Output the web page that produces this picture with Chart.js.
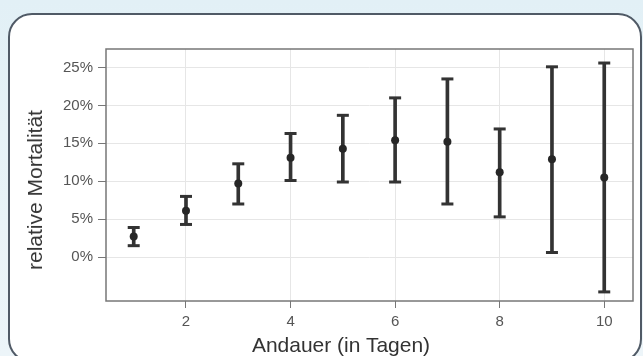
<!DOCTYPE html>
<html>
<head>
<meta charset="utf-8">
<script src="https://cdn.jsdelivr.net/npm/chart.js@4"></script>
<style>
  html, body { margin:0; padding:0; width:643px; height:356px; overflow:hidden;
    background: linear-gradient(#e2f0f6, #edf5f9); font-family: "Liberation Sans", Arial, sans-serif; }
  #frame { position:absolute; left:8px; top:13px; width:634px; height:350px;
    border:2px solid #505a66; border-radius:24px; background:#fff; box-sizing:border-box; }
  #c { position:absolute; left:0; top:0; }
  .title { position:absolute; color:#333; font-size:21px; white-space:nowrap; }
  #xt { left:341px; top:345px; transform:translate(-50%,-50%); }
  #yt { left:35px; top:190px; transform:translate(-50%,-50%) rotate(-90deg); }
</style>
</head>
<body>
<div id="frame"></div>
<canvas id="c" width="643" height="356"></canvas>
<div class="title" id="xt">Andauer (in Tagen)</div>
<div class="title" id="yt">relative Mortalität</div>
<script>
// Data (relative mortality in %)
const days   = [1, 2, 3, 4, 5, 6, 7, 8, 9, 10];
const mean   = [2.7, 6.1, 9.7, 13.1, 14.3, 15.4, 15.2, 11.2, 12.9, 10.5];
const lower  = [1.5, 4.3, 7.0, 10.1, 9.9, 9.9, 7.0, 5.3, 0.6, -4.6];
const upper  = [3.9, 8.0, 12.3, 16.3, 18.7, 21.0, 23.5, 16.9, 25.1, 25.6];
const xTicks = [2, 4, 6, 8, 10];
const yTicks = [0, 5, 10, 15, 20, 25];

const ink = '#333333';

const framePlugin = {
  id: 'plotFrame',
  afterDraw(chart) {
    const a = chart.chartArea, ctx = chart.ctx;
    ctx.save();
    ctx.strokeStyle = '#777';
    ctx.lineWidth = 1.5;
    ctx.strokeRect(a.left, a.top, a.right - a.left, a.bottom - a.top);
    ctx.restore();
  }
};

new Chart(document.getElementById('c'), {
  data: {
    datasets: [
      { type: 'scatter', label: 'Mittelwert',
        data: days.map((d, i) => ({ x: d, y: mean[i] })),
        pointRadius: 4, pointBackgroundColor: '#262626', pointBorderColor: '#262626', pointBorderWidth: 0 },
      { type: 'scatter', label: 'obere Grenze',
        data: days.map((d, i) => ({ x: d, y: upper[i] })),
        pointStyle: 'line', pointRadius: 6, pointBorderWidth: 3, pointBorderColor: ink },
      { type: 'scatter', label: 'untere Grenze',
        data: days.map((d, i) => ({ x: d, y: lower[i] })),
        pointStyle: 'line', pointRadius: 6, pointBorderWidth: 3, pointBorderColor: ink },
      { type: 'bar', label: 'Intervall',
        data: days.map((d, i) => ({ x: d, y: [lower[i], upper[i]] })),
        backgroundColor: ink, borderWidth: 0, barThickness: 3 }
    ]
  },
  options: {
    responsive: false,
    animation: false,
    layout: { padding: { top: 49, right: 10, left: 0, bottom: 0 } },
    plugins: { legend: { display: false }, tooltip: { enabled: false } },
    scales: {
      x: {
        type: 'linear', min: 0.47, max: 10.55, offset: false,
        afterBuildTicks(s) { s.ticks = xTicks.map(v => ({ value: v })); },
        afterFit(s) { s.height = 55; },
        grid: { offset: false, color: '#e6e6e6', lineWidth: 1, tickColor: '#777', tickLength: 7, drawTicks: true },
        border: { display: false },
        ticks: { color: '#555', font: { size: 15, family: 'Liberation Sans' }, padding: 5, maxRotation: 0 }
      },
      y: {
        type: 'linear', min: -5.8, max: 27.45,
        afterBuildTicks(s) { s.ticks = yTicks.map(v => ({ value: v })); },
        afterFit(s) { s.width = 106; },
        grid: { color: '#e6e6e6', lineWidth: 1, tickColor: '#777', tickLength: 8, drawTicks: true },
        border: { display: false },
        ticks: { color: '#555', font: { size: 15, family: 'Liberation Sans' }, padding: 5,
          callback: v => v + '%' }
      }
    }
  },
  plugins: [framePlugin]
});
</script>
</body>
</html>
